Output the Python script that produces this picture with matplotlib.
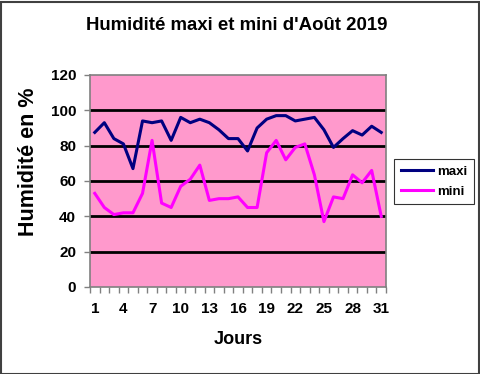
import matplotlib
matplotlib.use("Agg")
from matplotlib import pyplot as plt
from matplotlib.patches import Rectangle

plt.rcParams['font.family'] = ['Liberation Sans', 'DejaVu Sans']

# Data: humidity per day, August 2019
jours = list(range(1, 32))
maxi = [87.5, 93, 84, 81, 67, 94, 93, 94, 83, 96, 93, 95, 93, 89, 84,
        84, 77, 90, 95, 97, 97, 94, 95, 96, 89, 79, 84, 88.5, 86, 91, 87.5]
mini = [53, 45, 41, 42, 42, 53, 83, 47.5, 45, 57, 61, 69, 49, 50, 50,
        51, 45, 45, 76, 83, 72, 79, 81, 63.5, 37, 51, 50, 63.5, 59, 66, 40]
tick_days = [1, 4, 7, 10, 13, 16, 19, 22, 25, 28, 31]
yticks = [0, 20, 40, 60, 80, 100, 120]

W, H = 481, 374
fig = plt.figure(figsize=(W / 100, H / 100), dpi=100)
fig.patch.set_facecolor('white')
fig.add_artist(Rectangle((0.5 / W, 0.5 / H), 1 - 2 / W, 1 - 2 / H,
                         transform=fig.transFigure, fill=False,
                         edgecolor='#404040', linewidth=1.5))

ax = fig.add_axes([90 / W, (H - 287) / H, 296 / W, 212 / H])
ax.set_facecolor('#FF99CC')

for y in yticks[1:-1]:
    ax.axhline(y, color='black', linewidth=2, zorder=1)

ax.plot(jours, maxi, color='#000080', linewidth=2.2, label='maxi', zorder=3)
ax.plot(jours, mini, color='#FF00FF', linewidth=2.2, label='mini', zorder=3)

ax.set_xlim(0.5, 31.5)
ax.set_ylim(0, 120)
ax.set_yticks(yticks)
ax.set_xticks(tick_days)
ax.set_xticks([d + 0.5 for d in range(0, 32)], minor=True)
ax.tick_params(axis='x', which='major', length=0, pad=11)
ax.tick_params(axis='x', which='minor', length=4, direction='out', width=1, color='#808080')
ax.tick_params(axis='y', length=4, direction='out', width=1, color='#808080', pad=6)
for lab in ax.get_xticklabels() + ax.get_yticklabels():
    lab.set_fontsize(11)
    lab.set_fontweight('bold')

for side in ['top', 'right', 'bottom', 'left']:
    ax.spines[side].set_color('#808080')
    ax.spines[side].set_linewidth(1.2)

fig.text(237 / W, 1 - 25 / H, "Humidité maxi et mini d'Août 2019",
         ha='center', va='center', fontsize=13.4, fontweight='bold')
fig.text(238 / W, 1 - 339 / H, 'Jours', ha='center', va='center',
         fontsize=13, fontweight='bold')
fig.text(29 / W, 1 - 162 / H, 'Humidité en %', ha='center', va='center',
         rotation=90, fontsize=15.5, fontweight='bold')

leg = fig.legend(loc='center', bbox_to_anchor=(434 / W, 1 - 181.5 / H),
                 frameon=True, fancybox=False, edgecolor='black',
                 prop={'weight': 'bold', 'size': 9.5}, handlelength=2.4,
                 handletextpad=0.3, borderpad=0.5, labelspacing=0.6)
leg.get_frame().set_linewidth(0.8)

fig.savefig('out.png', dpi=100)
